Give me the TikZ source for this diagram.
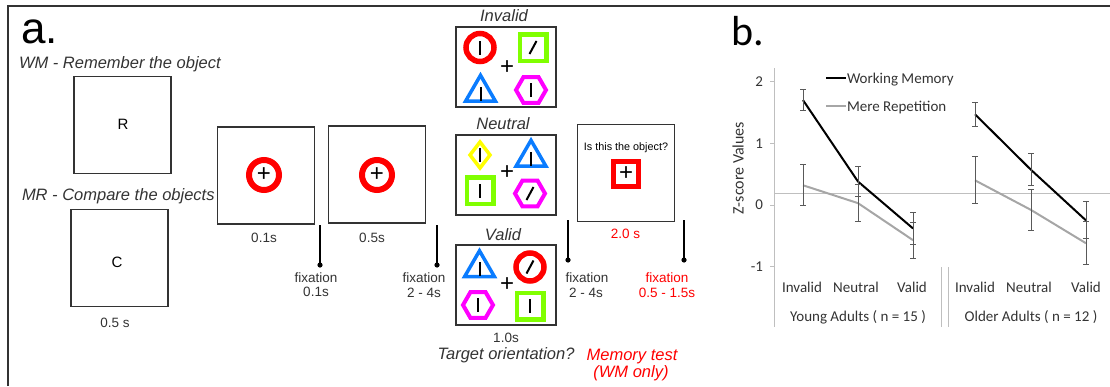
\documentclass[tikz,border=0pt]{standalone}
\usepackage{fontspec}
\setmainfont{Liberation Sans}
\newfontfamily\chartfont{Carlito}
\usetikzlibrary{shapes.geometric}
\definecolor{cred}{HTML}{FF0000}
\definecolor{cgreen}{HTML}{80FF00}
\definecolor{cblue}{HTML}{0A7CFF}
\definecolor{cmag}{HTML}{FF00FF}
\definecolor{cyel}{HTML}{FFFF00}
\definecolor{ink}{HTML}{333333}
\definecolor{cgray}{HTML}{A6A6A6}
\definecolor{lgray}{HTML}{BFBFBF}
\definecolor{egray}{HTML}{595959}
\newcommand\stimvbar[1]{\draw[bar] ([yshift=-7pt]#1.center) -- ([yshift=7pt]#1.center);}
\newcommand\stimsbar[1]{\draw[bar] ([shift={(-3.5pt,-6.5pt)}]#1.center) -- ([shift={(3.5pt,6.5pt)}]#1.center);}
\begin{document}
\begin{tikzpicture}[x=1pt,y=-1pt,
  every node/.style={inner sep=0pt, outer sep=0pt},
  frame/.style={draw=ink, line width=1.6pt},
  stimbox/.style={draw=ink, line width=1.8pt, minimum width=97pt, minimum height=97pt},
  arraybox/.style={draw=ink, line width=1.8pt, minimum width=100pt, minimum height=80pt},
  ring/.style={circle, draw=cred, line width=5.5pt, minimum size=28pt},
  bigring/.style={circle, draw=cred, line width=6pt, minimum size=30pt},
  gsq/.style={rectangle, draw=cgreen, line width=4.5pt, minimum size=26.5pt},
  btri/.style={regular polygon, regular polygon sides=3, draw=cblue, line width=3.5pt, minimum size=34.4pt},
  mhex/.style={regular polygon, regular polygon sides=6, draw=cmag, line width=4pt, minimum size=30pt},
  ydia/.style={diamond, draw=cyel, line width=3.5pt, minimum width=20pt, minimum height=26pt},
  rsq/.style={rectangle, draw=cred, line width=5pt, minimum size=25pt},
  bar/.style={draw=black, line width=2pt},
  crs/.style={font=\fontsize{24}{24}\selectfont},
  biglbl/.style={font=\fontsize{44}{44}\selectfont, text=black},
  cond/.style={font=\itshape\fontsize{16.5}{19}\selectfont, text=ink},
  lbl/.style={font=\fontsize{13.5}{15}\selectfont, text=ink},
  letter/.style={font=\fontsize{15}{17}\selectfont, text=black},
  smallq/.style={font=\fontsize{10.8}{12}\selectfont, text=black},
  redlbl/.style={lbl, text=cred},
  redcond/.style={cond, text=cred},
  fixline/.style={draw=black, line width=2.5pt},
  wm/.style={draw=black, line width=2pt},
  mr/.style={draw=cgray, line width=2pt},
  errbar/.style={draw=egray, line width=1pt},
  axisline/.style={draw=lgray, line width=1pt},
  ctext/.style={font=\chartfont\fontsize{15}{18}\selectfont, text=ink},
]
\useasboundingbox (0,0) rectangle (1110,386);
\draw[frame] (8,386) -- (8,6) -- (1110,6);

% ---------------- panel a ----------------
\node[biglbl, anchor=base west] (alabel) at (21,43) {a.};
\node[cond, anchor=base west] (wmtitle) at (19,68) {WM - Remember the object};
\node[cond, anchor=base west] (mrtitle) at (22,200) {MR - Compare the objects};

\node[stimbox] (boxR) at (122.5,125) {};
\node[letter] (letR) at (123,124) {R};
\node[stimbox] (boxC) at (119.5,258) {};
\node[letter] (letC) at (117,262) {C};
\node[lbl] (tC) at (115,323) {0.5 s};

\node[stimbox] (cue1) at (266,175.5) {};
\node[bigring] (ring1) at (264,175) {};
\node[crs] (plus1) at (264,175) {+};
\node[lbl] (t1) at (264,238) {0.1s};

\node[stimbox] (cue2) at (377,174.5) {};
\node[bigring] (ring2) at (377,175) {};
\node[crs] (plus2) at (377,175) {+};
\node[lbl] (t2) at (372,238) {0.5s};

% fixation markers
\coordinate (f1a) at (320,225); \coordinate (f1b) at (320,265);
\draw[fixline] (f1a) -- (f1b); \fill (f1b) circle (2.6pt);
\node[lbl, anchor=base] (fx1) at (316,282) {fixation};
\node[lbl, anchor=base] (fx1t) at (316,296.5) {0.1s};

\coordinate (f2a) at (437,225); \coordinate (f2b) at (437,265);
\draw[fixline] (f2a) -- (f2b); \fill (f2b) circle (2.6pt);
\node[lbl, anchor=base] (fx2) at (424,282) {fixation};
\node[lbl, anchor=base] (fx2t) at (424,297) {2 - 4s};

\coordinate (f3a) at (568,220); \coordinate (f3b) at (568,260);
\draw[fixline] (f3a) -- (f3b); \fill (f3b) circle (2.6pt);
\node[lbl, anchor=base] (fx3) at (587,282) {fixation};
\node[lbl, anchor=base] (fx3t) at (586,297) {2 - 4s};

\coordinate (f4a) at (684,220); \coordinate (f4b) at (684,260);
\draw[fixline] (f4a) -- (f4b); \fill (f4b) circle (2.6pt);
\node[redlbl, anchor=base] (fx4) at (667,282) {fixation};
\node[redlbl, anchor=base] (fx4t) at (667,297) {0.5 - 1.5s};

% Invalid array
\node[cond, anchor=base] (invT) at (504,21.5) {Invalid};
\node[arraybox] (invB) at (506,67) {};
\node[ring] (inv1) at (480,47.5) {};
\node[gsq] (inv2) at (533,47.5) {};
\node[btri] (inv3) at (480.5,92.5) {};
\node[mhex] (inv4) at (531,90) {};
\node[crs] (invP) at (507,68) {+};
\stimvbar{inv1} \stimsbar{inv2}
\draw[bar] ([yshift=-8pt]inv3.center) -- ([yshift=6pt]inv3.center);
\stimvbar{inv4}

% Neutral array
\node[cond, anchor=base] (neuT) at (503,129.5) {Neutral};
\node[arraybox] (neuB) at (506,175) {};
\node[ydia] (neu1) at (480,155) {};
\node[btri] (neu2) at (531,157.5) {};
\node[gsq] (neu3) at (480,190.5) {};
\node[mhex] (neu4) at (530,193.5) {};
\node[crs] (neuP) at (507,173) {+};
\stimvbar{neu1}
\draw[bar] ([yshift=-8pt]neu2.center) -- ([yshift=6pt]neu2.center);
\stimvbar{neu3} \stimsbar{neu4}

% Valid array
\node[cond, anchor=base] (valT) at (503,240) {Valid};
\node[arraybox] (valB) at (506,285) {};
\node[btri] (val1) at (479.5,268) {};
\node[ring] (val2) at (530,267) {};
\node[mhex] (val3) at (478,305) {};
\node[gsq] (val4) at (530,306) {};
\node[crs] (valP) at (507,285) {+};
\draw[bar] ([yshift=-8pt]val1.center) -- ([yshift=6pt]val1.center);
\stimsbar{val2} \stimvbar{val3} \stimvbar{val4}

\node[lbl] (t3) at (506,338) {1.0s};
\node[cond, anchor=base] (target) at (506,359) {Target orientation?};

% memory test
\node[stimbox] (test) at (626,173) {};
\node[smallq, anchor=base] (q) at (626,150) {Is this the object?};
\node[rsq] (tsq) at (626,173.5) {};
\node[crs] (tplus) at (626,173.5) {+};
\node[redlbl] (t4) at (625.5,233.5) {2.0 s};
\node[redcond, anchor=base] (mem1) at (632,360) {Memory test};
\node[redcond, anchor=base] (mem2) at (631,377) {(WM only)};

% ---------------- panel b ----------------
\node[font=\chartfont\fontsize{42}{42}\selectfont, anchor=base west] (blabel) at (731,45) {b.};
\draw[axisline] (774,68) -- (774,327);
\foreach \yy in {81.6,143.3,205,266.7} {\draw[axisline] (770,\yy) -- (774,\yy);}
\node[ctext, anchor=east] (y2) at (763,82) {2};
\node[ctext, anchor=east] (y1) at (763,143.3) {1};
\node[ctext, anchor=east] (y0) at (763,205) {0};
\node[ctext, anchor=east] (ym1) at (763,267) {-1};
\node[ctext, rotate=90, font=\chartfont\fontsize{16}{18}\selectfont] (ylab) at (738,168) {Z-score Values};
\draw[axisline] (774,193) -- (1110,193);
\draw[axisline] (941,267) -- (941,327);
\draw[axisline] (948,267) -- (948,327);

% legend
\coordinate (lg1a) at (826,78); \coordinate (lg1b) at (846,78);
\draw[wm] (lg1a) -- (lg1b);
\node[ctext, anchor=base west] (lgwm) at (847,83) {Working Memory};
\coordinate (lg2a) at (826,106); \coordinate (lg2b) at (846,106);
\draw[mr] (lg2a) -- (lg2b);
\node[ctext, anchor=base west] (lgmr) at (847,111) {Mere Repetition};

\begin{scope}[shift={(0,205)}, y=61.7pt]
  \coordinate (yw1) at (803,1.70); \coordinate (yw2) at (858,0.38); \coordinate (yw3) at (913,-0.38);
  \coordinate (ym1) at (803,0.32); \coordinate (ym2) at (858,0.03); \coordinate (ym3) at (913,-0.57);
  \coordinate (ow1) at (975,1.47); \coordinate (ow2) at (1031,0.57); \coordinate (ow3) at (1086,-0.25);
  \coordinate (om1) at (975,0.40); \coordinate (om2) at (1031,-0.08); \coordinate (om3) at (1086,-0.62);
  \draw[mr] (ym1) -- (ym2) -- (ym3);
  \draw[mr] (om1) -- (om2) -- (om3);
  \draw[wm] (yw1) -- (yw2) -- (yw3);
  \draw[wm] (ow1) -- (ow2) -- (ow3);
  \foreach \x/\m/\e in {803/1.70/0.17, 858/0.38/0.24, 913/-0.38/0.26,
                        803/0.32/0.33, 858/0.03/0.30, 913/-0.57/0.29,
                        975/1.47/0.19, 1031/0.57/0.26, 1086/-0.25/0.30,
                        975/0.40/0.38, 1031/-0.08/0.33, 1086/-0.62/0.35} {
    \draw[errbar] (\x,\m-\e) -- (\x,\m+\e);
    \draw[errbar] (\x-3,\m-\e) -- (\x+3,\m-\e);
    \draw[errbar] (\x-3,\m+\e) -- (\x+3,\m+\e);
  }
\end{scope}

\node[ctext, anchor=base] (c1) at (802,292) {Invalid};
\node[ctext, anchor=base] (c2) at (856,292) {Neutral};
\node[ctext, anchor=base] (c3) at (912,292) {Valid};
\node[ctext, anchor=base] (c4) at (975,292) {Invalid};
\node[ctext, anchor=base] (c5) at (1029,292) {Neutral};
\node[ctext, anchor=base] (c6) at (1086,292) {Valid};
\node[ctext, anchor=base] (g1) at (858,321) {Young Adults ( n = 15 )};
\node[ctext, anchor=base] (g2) at (1031,321) {Older Adults ( n = 12 )};
\end{tikzpicture}
\end{document}
